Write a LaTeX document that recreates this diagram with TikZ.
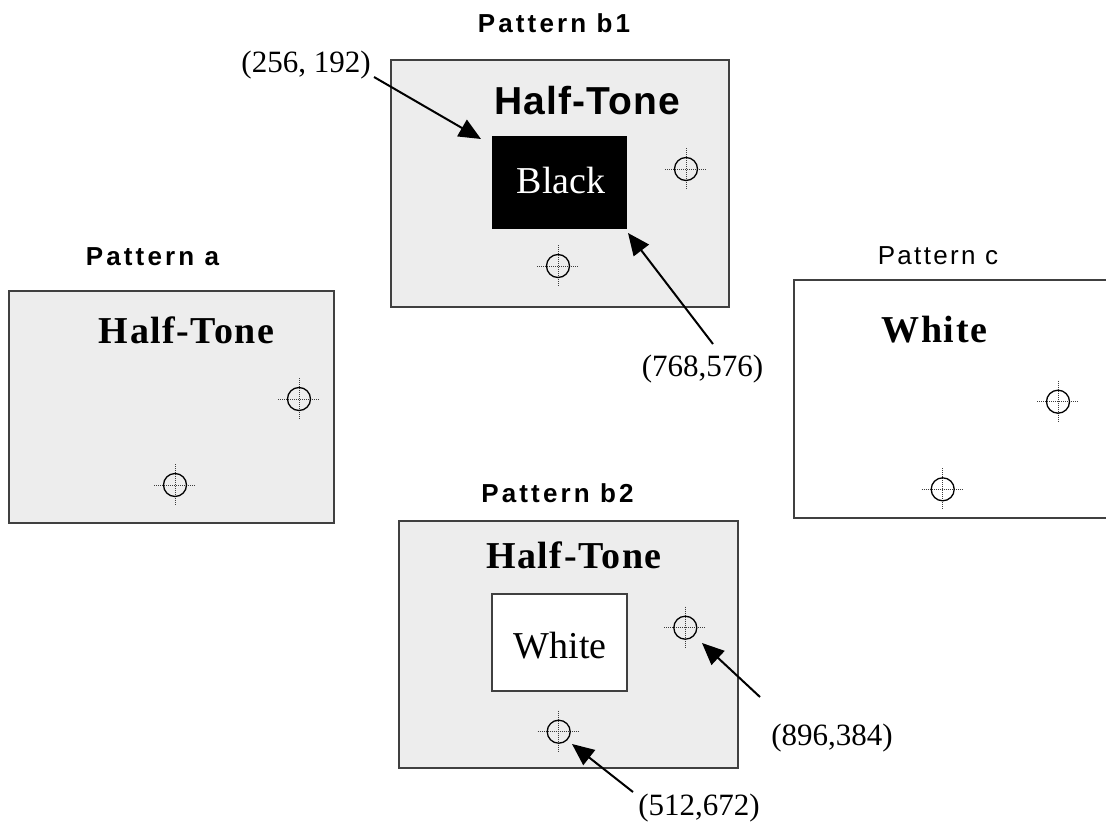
\documentclass[tikz,border=0pt]{standalone}
\usepackage{fontspec}
\setmainfont{Liberation Serif}
\setsansfont{Liberation Sans}
\usetikzlibrary{arrows.meta}
\definecolor{halftone}{RGB}{237,237,237}
\definecolor{framegray}{RGB}{64,64,64}
\definecolor{dotgray}{RGB}{60,60,60}
\tikzset{
  panel/.style={draw=framegray, line width=1.4pt, fill=halftone, inner sep=0pt},
  heading/.style={font=\sffamily\bfseries\fontsize{26}{26}\selectfont\addfontfeature{LetterSpace=12}, anchor=base, inner sep=0pt},
  headingreg/.style={font=\sffamily\fontsize{26}{26}\selectfont\addfontfeature{LetterSpace=9}, anchor=base, inner sep=0pt},
  titlesans/.style={font=\sffamily\bfseries\fontsize{39}{39}\selectfont\addfontfeature{LetterSpace=3}, anchor=base, inner sep=0pt},
  titleserif/.style={font=\rmfamily\bfseries\fontsize{38}{38}\selectfont\addfontfeature{LetterSpace=4}, anchor=base, inner sep=0pt},
  boxtext/.style={font=\rmfamily\fontsize{38}{38}\selectfont, anchor=base, inner sep=0pt},
  coordlabel/.style={font=\rmfamily\fontsize{31}{31}\selectfont, anchor=base, inner sep=0pt},
  conn/.style={line width=2pt, -{Triangle[length=22pt,width=19pt]}},
  xhair/.pic={
    \draw[dotgray, line width=1pt, dash pattern=on 1pt off 1pt] (-21,0) -- (21,0) (0,-21) -- (0,21);
    \draw[black, line width=1.3pt] (0,0) circle[radius=11.5pt];
  }
}
\begin{document}
\begin{tikzpicture}[x=1pt,y=-1pt]
\clip (0,0) rectangle (1106,825);
\fill[white] (0,0) rectangle (1106,825);

% Pattern a
\node[heading] (ha) at (152.5,265) {Pattern a};
\node[panel, minimum width=325pt, minimum height=232pt] (pa) at (171.5,407) {};
\node[titleserif] (ta) at (186.7,343) {Half-Tone};
\pic at (299,399) {xhair};
\pic at (175,485) {xhair};

% Pattern b1
\node[heading] (hb1) at (554,32) {Pattern b1};
\node[panel, minimum width=338pt, minimum height=247pt] (pb1) at (560,183.5) {};
\node[titlesans] (tb1) at (587.5,114) {Half-Tone};
\node[fill=black, minimum width=135pt, minimum height=93pt, inner sep=0pt] (black) at (559.5,182.5) {};
\node[boxtext, text=white] (tblack) at (561,193) {Black};
\pic at (686,169) {xhair};
\pic at (558,266) {xhair};

% Pattern c
\node[headingreg] (hc) at (938,264) {Pattern c};
\node[draw=framegray, line width=1.4pt, fill=white, minimum width=325pt, minimum height=238pt, inner sep=0pt] (pc) at (956.5,399) {};
\node[titleserif] (tc) at (934.5,342) {White};
\pic at (1058,401.7) {xhair};
\pic at (942.7,489.3) {xhair};

% Pattern b2
\node[heading] (hb2) at (557.5,502) {Pattern b2};
\node[panel, minimum width=339pt, minimum height=247pt] (pb2) at (568.5,644.5) {};
\node[titleserif] (tb2) at (574,568) {Half-Tone};
\node[draw=framegray, line width=1.2pt, fill=white, minimum width=135pt, minimum height=97pt, inner sep=0pt] (wbox) at (559.5,642.5) {};
\node[boxtext] (twhite) at (560,658) {White};
\pic at (685.3,627.7) {xhair};
\pic at (558.7,731.7) {xhair};

% coordinate labels
\node[coordlabel] (l1) at (306,72) {(256, 192)};
\node[coordlabel] (l2) at (702.5,376) {(768,576)};
\node[coordlabel] (l3) at (832,745) {(896,384)};
\node[coordlabel] (l4) at (699,815) {(512,672)};

\coordinate (t1) at (374,77);
\coordinate (a1) at (481,139);
\coordinate (t2) at (713,344);
\coordinate (a2) at (628,233);
\coordinate (t3) at (760,697);
\coordinate (a3) at (702,643);
\coordinate (t4) at (633,792);
\coordinate (a4) at (572,744);

\draw[conn] (t1) -- (a1);
\draw[conn] (t2) -- (a2);
\draw[conn] (t3) -- (a3);
\draw[conn] (t4) -- (a4);
\end{tikzpicture}
\end{document}
